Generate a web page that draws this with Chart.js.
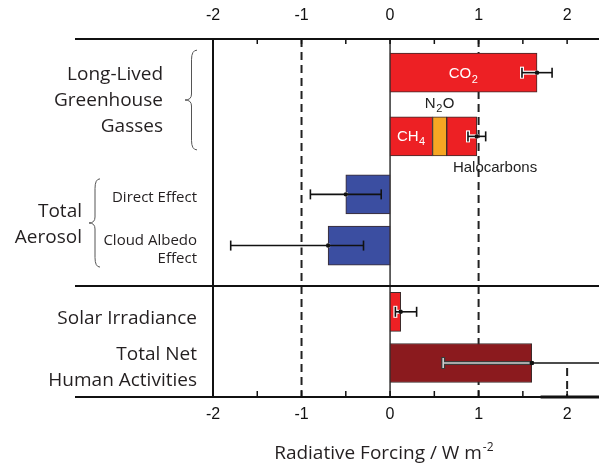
<!DOCTYPE html>
<html>
<head>
<meta charset="utf-8">
<script src="https://cdn.jsdelivr.net/npm/chart.js@4.4.1/dist/chart.umd.min.js"></script>
<style>
  html, body { margin: 0; padding: 0; background: #fff; }
  canvas { display: block; }
</style>
</head>
<body>
<canvas id="chart" width="599" height="466"></canvas>
<script>
// radiative forcing components, W m-2 (CH4, N2O and halocarbons share one row)
var forcingNames  = ['CO2', 'CH4', 'N2O', 'Halocarbons', 'Direct Effect', 'Cloud Albedo Effect', 'Solar Irradiance', 'Total Net Human Activities'];
var forcingValues = [1.66, 0.48, 0.16, 0.34, -0.5, -0.7, 0.12, 1.6];
var forcingRow    = [0, 1, 1, 1, 2, 3, 4, 5];

// uncertainty range for each row
var rangeLow  = [1.49, 0.88, -0.9, -1.8, 0.06, 0.6];
var rangeHigh = [1.83, 1.08, -0.1, -0.3, 0.30, 2.4];

var tickValues = [-2, -1, 0, 1, 2];

// styling / layout
var barColors = ['#ed2024', '#ed2024', '#f6a623', '#ed2024', '#3b4ea1', '#3b4ea1', '#ed2024', '#8b1a1e'];
var rowCentre = [9.4, 27.2, 43.4, 57.7, 76.2, 90.5];   // on the 0..100 y scale
var groupSplit = 69;                                 // line between aerosol and solar rows
var ink = '#231f20';
var labelFont = '"Open Sans", sans-serif';
var numFont = '"Liberation Sans", Arial, sans-serif';

// stack the pieces of each row end to end
var rowEnd = [];
var barData = forcingValues.map(function(v, i) {
    var r = forcingRow[i];
    var start = rowEnd[r] || 0;
    rowEnd[r] = start + v;
    return { x: [start, start + v], y: rowCentre[r] };
});

function hline(ctx, x0, x1, y) {
    ctx.beginPath(); ctx.moveTo(x0, y); ctx.lineTo(x1, y); ctx.stroke();
}
function vline(ctx, x, y0, y1) {
    ctx.beginPath(); ctx.moveTo(x, y0); ctx.lineTo(x, y1); ctx.stroke();
}

// formula with a subscript digit, e.g. CO + 2, N + 2 + O
function chemText(ctx, base, sub, tail, x, y, size, shift) {
    var subSize = Math.round(size * 0.72);
    ctx.font = size + 'px ' + numFont;
    var wb = ctx.measureText(base).width, wt = ctx.measureText(tail).width;
    ctx.font = subSize + 'px ' + numFont;
    var ws = ctx.measureText(sub).width;
    var left = x - (wb + ws + wt + 1) / 2;
    ctx.textAlign = 'left';
    ctx.font = size + 'px ' + numFont;
    ctx.fillText(base, left, y);
    ctx.fillText(tail, left + wb + ws + 1, y);
    ctx.font = subSize + 'px ' + numFont;
    ctx.fillText(sub, left + wb + 0.5, y + shift);
}

function brace(ctx, tipX, endX, top, bottom) {
    var mid = (top + bottom) / 2, xb = (tipX + endX) / 2 + 0.5, r = 6;
    ctx.beginPath();
    ctx.moveTo(endX, top);
    ctx.quadraticCurveTo(xb, top, xb, top + r * 1.6);
    ctx.lineTo(xb, mid - r);
    ctx.quadraticCurveTo(xb, mid, tipX, mid);
    ctx.quadraticCurveTo(xb, mid, xb, mid + r);
    ctx.lineTo(xb, bottom - r * 1.6);
    ctx.quadraticCurveTo(xb, bottom, endX, bottom);
    ctx.stroke();
}

function errorBar(ctx, xs, lo, hi, mid, y, dark) {
    var pl = xs.getPixelForValue(lo), ph = xs.getPixelForValue(hi), pm = xs.getPixelForValue(mid);
    var cap = 5;
    ctx.lineCap = 'butt';
    // halo
    ctx.strokeStyle = dark ? '#3a3a3a' : '#ffffff';
    ctx.lineWidth = 4;
    hline(ctx, pl, Math.min(ph, pm + 2), y);
    vline(ctx, pl, y - cap - 1, y + cap + 1);
    // line + caps
    ctx.strokeStyle = dark ? '#cfcfcf' : '#111';
    ctx.lineWidth = 1.6;
    hline(ctx, pl, pm, y);
    vline(ctx, pl, y - cap, y + cap);
    ctx.strokeStyle = '#111';
    hline(ctx, pm, ph, y);
    vline(ctx, ph, y - cap, y + cap);
    ctx.fillStyle = '#111';
    ctx.beginPath(); ctx.arc(pm, y, 2.2, 0, Math.PI * 2); ctx.fill();
}

var decorations = {
    id: 'decorations',
    beforeDatasetsDraw: function(chart) {
        var ctx = chart.ctx, a = chart.chartArea, xs = chart.scales.x, ys = chart.scales.y;
        ctx.save();
        ctx.strokeStyle = '#222';
        ctx.lineWidth = 2;
        ctx.setLineDash([8, 5]);
        vline(ctx, xs.getPixelForValue(-1), a.top, a.bottom);
        vline(ctx, xs.getPixelForValue(1), a.top, a.bottom);
        vline(ctx, xs.getPixelForValue(2), a.bottom - 29, a.bottom);
        ctx.setLineDash([]);

        ctx.strokeStyle = '#111';
        vline(ctx, xs.getPixelForValue(-2), a.top, a.bottom);
        ctx.strokeStyle = '#333';
        ctx.lineWidth = 1.5;
        vline(ctx, xs.getPixelForValue(0), a.top, a.bottom);

        // frame lines reach out under the row labels
        ctx.strokeStyle = '#111';
        ctx.lineWidth = 2;
        hline(ctx, 75, a.right, a.top);
        hline(ctx, 75, a.right, a.bottom);
        hline(ctx, 75, a.right, ys.getPixelForValue(groupSplit));
        ctx.lineWidth = 3;
        hline(ctx, xs.getPixelForValue(1.7), a.right, a.bottom);

        // half-unit ticks pointing into the plot
        ctx.lineWidth = 1.5;
        for (var v = -2; v <= 2.01; v += 0.5) {
            var px = xs.getPixelForValue(v);
            vline(ctx, px, a.top, a.top + 5);
            vline(ctx, px, a.bottom, a.bottom - 6);
        }
        ctx.restore();
    },
    afterDatasetsDraw: function(chart) {
        var ctx = chart.ctx, a = chart.chartArea, xs = chart.scales.x, ys = chart.scales.y;
        ctx.save();
        ctx.beginPath(); ctx.rect(a.left, a.top, a.right - a.left, a.bottom - a.top); ctx.clip();
        rowCentre.forEach(function(c, r) {
            errorBar(ctx, xs, rangeLow[r], rangeHigh[r], rowEnd[r], ys.getPixelForValue(c), r === 5);
        });
        ctx.restore();

        ctx.save();
        ctx.textBaseline = 'alphabetic';
        var y0 = ys.getPixelForValue(rowCentre[0]);
        var y1 = ys.getPixelForValue(rowCentre[1]);
        ctx.fillStyle = '#ffffff';
        chemText(ctx, 'CO', '2', '', xs.getPixelForValue(forcingValues[0] / 2), y0 + 5, 15, 5);
        chemText(ctx, 'CH', '4', '', xs.getPixelForValue(forcingValues[1] / 2), y1 + 5, 15, 4);
        ctx.fillStyle = '#222';
        chemText(ctx, 'N', '2', 'O', xs.getPixelForValue(forcingValues[1] + forcingValues[2] / 2), y1 - 28.5, 15, 4);
        ctx.font = '15px ' + numFont;
        ctx.textAlign = 'left';
        ctx.fillText('Halocarbons', xs.getPixelForValue(0.71), y1 + 35.5);
        ctx.restore();
    },
    afterDraw: function(chart) {
        var ctx = chart.ctx, xs = chart.scales.x, ys = chart.scales.y;
        var yr = rowCentre.map(function(c) { return ys.getPixelForValue(c); });
        ctx.save();
        ctx.fillStyle = ink;
        ctx.textAlign = 'right';
        ctx.textBaseline = 'alphabetic';

        var big = '19px ' + labelFont, small = '15px ' + labelFont;
        var ghg = (yr[0] + yr[1]) / 2;
        ctx.font = big;
        ctx.fillText('Long-Lived', 163, ghg - 24.5);
        ctx.fillText('Greenhouse', 163, ghg + 1.5);
        ctx.fillText('Gasses', 163, ghg + 27.5);

        var aer = (yr[2] + yr[3]) / 2;
        ctx.fillText('Total', 82, aer - 3.3);
        ctx.fillText('Aerosol', 82, aer + 23.3);

        ctx.font = small;
        ctx.fillText('Direct Effect', 197, yr[2] + 7.8);
        ctx.fillText('Cloud Albedo', 197, yr[3] - 0.5);
        ctx.fillText('Effect', 197, yr[3] + 17.8);

        ctx.font = big;
        ctx.fillText('Solar Irradiance', 197, yr[4] + 12.3);
        ctx.fillText('Total Net', 197, yr[5] - 3);
        ctx.fillText('Human Activities', 197, yr[5] + 23);

        ctx.strokeStyle = '#555';
        ctx.lineWidth = 1;
        brace(ctx, 185, 197, yr[0] - 22.5, yr[1] + 13.5);
        brace(ctx, 89, 100, yr[2] - 15.5, yr[3] + 21.5);

        // x axis title with superscript unit
        ctx.font = big;
        var t = 'Radiative Forcing / W m';
        var wt = ctx.measureText(t).width;
        ctx.font = '12px ' + labelFont;
        var ws = ctx.measureText('-2').width;
        var left = xs.getPixelForValue(-0.07) - (wt + ws + 1) / 2;
        ctx.textAlign = 'left';
        ctx.font = big;
        ctx.fillText(t, left, 459);
        ctx.font = '12px ' + labelFont;
        ctx.fillText('-2', left + wt + 1, 451);
        ctx.restore();
    }
};

var axisTicks = {
    stepSize: 1,
    includeBounds: false,
    color: '#111',
    font: { family: numFont, size: 16 }
};

new Chart(document.getElementById('chart'), {
    type: 'bar',
    data: {
        labels: forcingNames,
        datasets: [{
            data: barData,
            backgroundColor: barColors,
            borderColor: '#3b2b2b',
            borderWidth: 1,
            borderSkipped: false,
            barThickness: 39
        }]
    },
    options: {
        indexAxis: 'y',
        responsive: false,
        animation: false,
        devicePixelRatio: 1,
        layout: { padding: { left: 213, right: 0, top: 0, bottom: 0 } },
        plugins: { legend: { display: false }, tooltip: { enabled: false } },
        scales: {
            x: {
                type: 'linear', position: 'bottom', min: -2, max: 2.36,
                afterBuildTicks: function(s) { s.ticks = tickValues.map(function(v) { return { value: v }; }); },
                ticks: Object.assign({ padding: 8 }, axisTicks),
                grid: { display: false, drawTicks: false },
                border: { display: false },
                afterFit: function(s) { s.height = 69; }
            },
            x2: {
                type: 'linear', axis: 'x', position: 'top', min: -2, max: 2.36,
                afterBuildTicks: function(s) { s.ticks = tickValues.map(function(v) { return { value: v }; }); },
                ticks: Object.assign({ padding: 14 }, axisTicks),
                grid: { display: false, drawTicks: false },
                border: { display: false },
                afterFit: function(s) { s.height = 39; }
            },
            y: { type: 'linear', min: 0, max: 100, reverse: true, offset: false, display: false }
        }
    },
    plugins: [decorations]
});
</script>
</body>
</html>
